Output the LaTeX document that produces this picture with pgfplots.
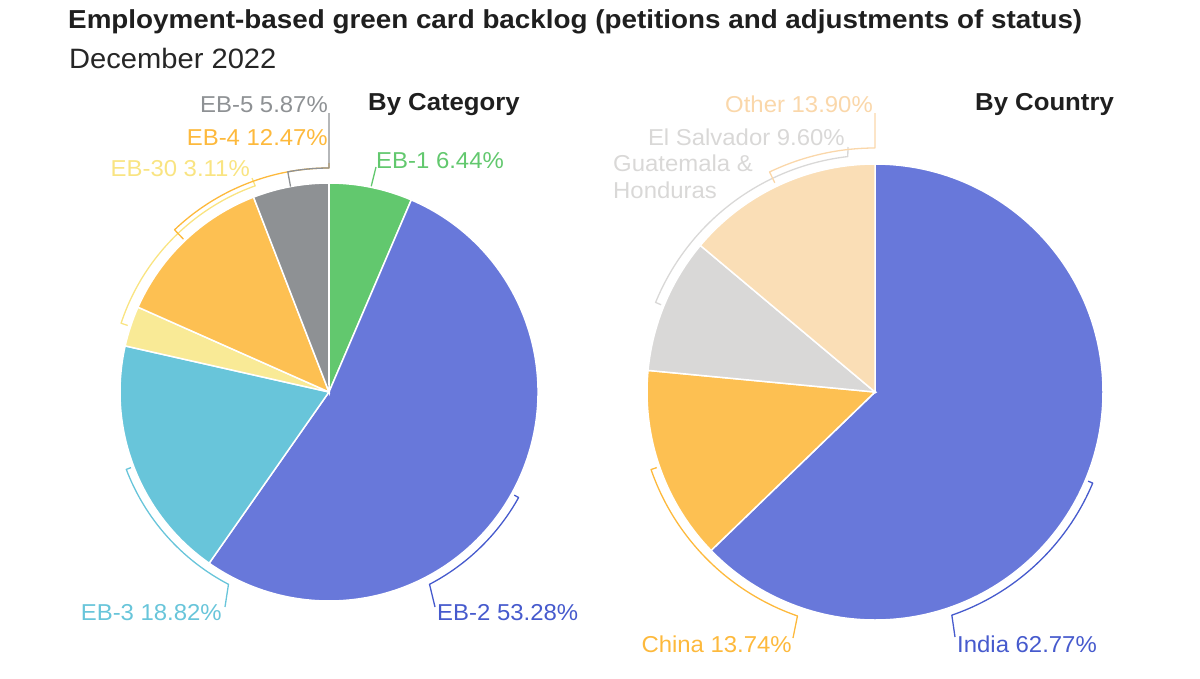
\documentclass[border=0pt]{standalone}
\usepackage{pgfplots}
\usepackage{pgfplotstable}
\pgfplotsset{compat=1.18}
\usepackage{fontspec}
\setmainfont{Liberation Sans}
\newfontfamily\subfont{Liberation Sans}[FakeStretch=1.04]
\newfontfamily\labfont{Liberation Sans}[FakeStretch=1.04]
\newfontfamily\titfont{Liberation Sans Bold}[FakeStretch=1.07]
\newfontfamily\headfont{Liberation Sans Bold}[FakeStretch=1.05]

\definecolor{cblue}{RGB}{104,120,218}
\definecolor{cbluel}{RGB}{70,90,205}
\definecolor{cgreen}{RGB}{98,200,110}
\definecolor{ccyan}{RGB}{104,197,218}
\definecolor{cyellow}{RGB}{249,234,150}
\definecolor{cyellowl}{RGB}{249,228,130}
\definecolor{corange}{RGB}{253,192,82}
\definecolor{corangel}{RGB}{253,185,60}
\definecolor{cgray}{RGB}{142,145,148}
\definecolor{clgray}{RGB}{217,216,215}
\definecolor{cpeach}{RGB}{250,222,182}
\definecolor{cpeachl}{RGB}{250,215,170}

\pgfplotstableread{
name value col
EB-1 6.44 cgreen
EB-2 53.28 cblue
EB-3 18.82 ccyan
EB-30 3.11 cyellow
EB-4 12.47 corange
EB-5 5.87 cgray
}\catdata

\pgfplotstableread{
name value col
India 62.77 cblue
China 13.74 corange
ElSalvadorGuatemalaHonduras 9.60 clgray
Other 13.90 cpeach
}\ctrydata

\newcommand\drawpie[4]{%
  \pgfplotstablegetrowsof{#1}%
  \pgfmathtruncatemacro\lastrow{\pgfplotsretval-1}%
  \def\cum{0}%
  \pgfplotsforeachungrouped \i in {0,...,\lastrow}{%
    \pgfplotstablegetelem{\i}{value}\of{#1}\let\val\pgfplotsretval
    \pgfplotstablegetelem{\i}{col}\of{#1}\let\col\pgfplotsretval
    \pgfmathsetmacro\sa{90-3.6*\cum}%
    \pgfmathsetmacro\ea{90-3.6*(\cum+\val)}%
    \edef\temp{\noexpand\fill[\col,draw=white,line width=1.5pt] (axis cs:#2,#3) -- ([shift={(\sa:#4pt)}]axis cs:#2,#3) arc[start angle=\sa,end angle=\ea,radius=#4pt] -- cycle;}%
    \temp
    \pgfmathsetmacro\cum{\cum+\val}%
  }%
}
% color, cx, cy, rin, r, a1, a2, lx, ly
\newcommand\bracket[9]{%
  \draw[#1,line width=1.3pt,line join=round] ([shift={(#6:#4pt)}]axis cs:#2,#3) -- ([shift={(#6:#5pt)}]axis cs:#2,#3) arc[start angle=#6,end angle=#7,radius=#5pt] -- (axis cs:#8,#9);%
}

\begin{document}
\begin{tikzpicture}
\begin{axis}[x=1pt,y=1pt,xmin=0,xmax=1200,ymin=0,ymax=678,y dir=reverse,
  hide axis,clip=false,at={(0,0)},anchor=south west]
\drawpie{\catdata}{329}{392}{209}
\drawpie{\ctrydata}{875}{392}{228}

% brackets pie 1
\bracket{cbluel}{329}{392}{212}{217}{-29.1}{-62.4}{435}{607}
\bracket{ccyan}{329}{392}{212}{217}{200.9}{242.4}{225}{607}
\bracket{cyellowl}{329}{392}{212}{219}{161.7}{109.7}{252}{178}
\bracket{corangel}{329}{392}{211}{224}{133.6}{90}{329}{163}
\bracket{cgray}{329}{392}{209}{224}{100.6}{90}{329}{113}
\draw[cgreen,line width=1.3pt] ([shift={(78.4:210pt)}]axis cs:329,392) -- (axis cs:376,167);
% brackets pie 2
\bracket{cbluel}{875}{392}{231}{236}{-22.7}{-71}{955}{637}
\bracket{corangel}{875}{392}{231}{237}{199.1}{250.9}{793}{638}
\bracket{clgray}{875}{392}{231}{237}{157.8}{96.6}{848}{147}
\bracket{cpeachl}{875}{392}{232}{244}{115.6}{90}{875}{113}

% labels
\tikzset{lab/.style={font=\labfont\fontsize{23}{27}\selectfont,inner sep=0pt}}
\node[lab,anchor=base east,text=cgray] at (axis cs:328,112) {EB-5 5.87\%};
\node[lab,anchor=base east,text=corangel] at (axis cs:328,145) {EB-4 12.47\%};
\node[lab,anchor=base east,text=cyellowl] at (axis cs:250,176) {EB-30 3.11\%};
\node[lab,anchor=base west,text=cgreen] at (axis cs:376,168) {EB-1 6.44\%};
\node[lab,anchor=base east,text=ccyan] at (axis cs:222,620) {EB-3 18.82\%};
\node[lab,anchor=base west,text=cbluel] at (axis cs:437,620) {EB-2 53.28\%};
\node[lab,anchor=base west,text=cbluel] at (axis cs:957,652) {India 62.77\%};
\node[lab,anchor=base east,text=corangel] at (axis cs:792,652) {China 13.74\%};
\node[lab,anchor=base east,text=clgray] at (axis cs:845,145) {El Salvador 9.60\%};
\node[lab,anchor=base west,text=clgray] at (axis cs:613,171) {Guatemala \&};
\node[lab,anchor=base west,text=clgray] at (axis cs:613,198) {Honduras};
\node[lab,anchor=base east,text=cpeachl] at (axis cs:873,112) {Other 13.90\%};

\node[anchor=base west,inner sep=0pt,font=\headfont\fontsize{24.5}{28}\selectfont,text=black!88] at (axis cs:368,110) {By Category};
\node[anchor=base west,inner sep=0pt,font=\headfont\fontsize{24.5}{28}\selectfont,text=black!88] at (axis cs:975,110) {By Country};

\node[anchor=base west,inner sep=0pt,font=\titfont\fontsize{26}{30}\selectfont,text=black!88] at (axis cs:68,28) {Employment-based green card backlog (petitions and adjustments of status)};
\node[anchor=base west,inner sep=0pt,font=\subfont\fontsize{28}{32}\selectfont,text=black!85] at (axis cs:69,68) {December 2022};
\end{axis}
\pgfresetboundingbox
\path (0,0) rectangle (1200pt,678pt);
\end{tikzpicture}
\end{document}
